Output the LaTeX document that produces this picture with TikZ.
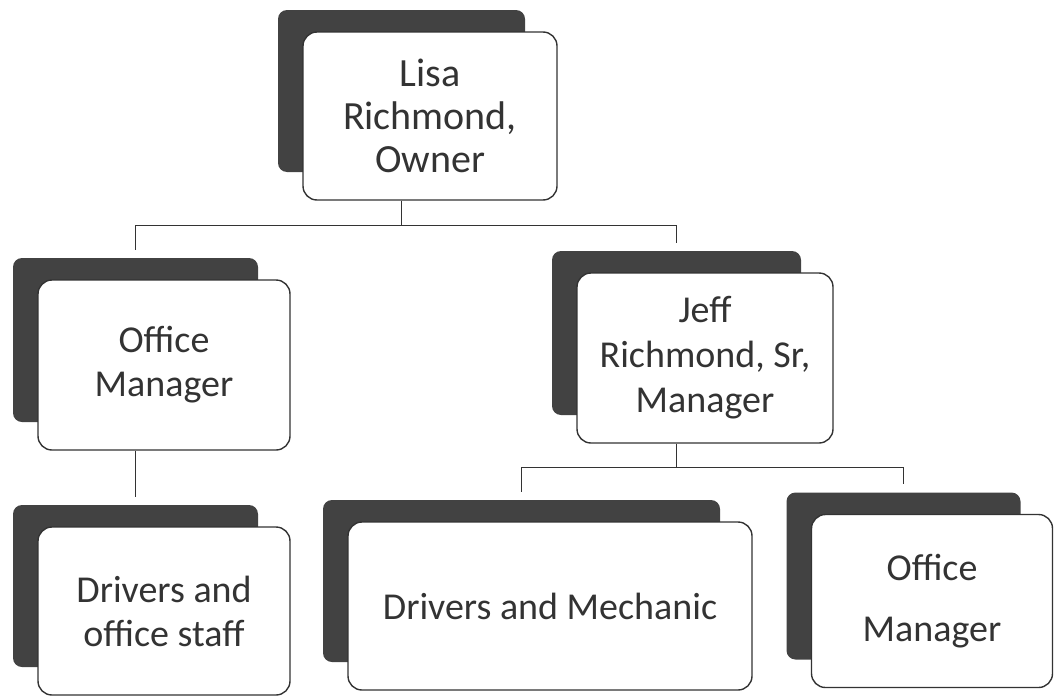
\documentclass[tikz,border=0pt]{standalone}
\usepackage{fontspec}
\setmainfont{Carlito}

\begin{document}
\begin{tikzpicture}[x=1pt, y=-1pt,
	back/.style={fill=black!74, rounded corners=9pt, inner sep=0pt},
	card/.style={draw=black!80, line width=1.4pt, fill=white, rounded corners=14pt,
		inner sep=0pt, align=center, text=black!80},
	link/.style={draw=black!80, line width=1.3pt, shorten >=8pt}]

	\useasboundingbox (0,0) rectangle (1054,696);

	%Kaesten
	\foreach \nm/\cx/\cy/\w/\h/\fs/\ls/\txt in {
		lisa/430/116/254/168/40/43/{Lisa\\Richmond,\\Owner},
		offL/164/365/252/170/38/44/{Office\\Manager},
		jeff/705/358/256/170/38/45/{Jeff\\Richmond, Sr,\\Manager},
		staff/164/611/252/168/38/44/{Drivers and\\office staff},
		mech/550/606/404/168/38/44/{Drivers and Mechanic},
		offR/932/601/241/173/38/61/{Office\\Manager}}
	{
		\node [back, minimum width={(\w-7)*1pt}, minimum height={(\h-6)*1pt}] (\nm-bk) at (\cx-28.5, \cy-25) {};
		\node [card, minimum width={\w*1pt}, minimum height={\h*1pt}, font=\fontsize{\fs}{\ls}\selectfont] (\nm) at (\cx, \cy) {\txt};
	}

	%Linien
	\draw [link] (lisa-bk |- lisa.south) -- ++(0, 25) -| (offL-bk.north);
	\draw [link] (lisa-bk |- lisa.south) -- ++(0, 25) -| (jeff-bk.north);
	\draw [link] (offL-bk |- offL.south) -- (staff-bk.north);
	\draw [link] (jeff-bk |- jeff.south) -- ++(0, 24) -| (mech-bk.north);
	\draw [link] (jeff-bk |- jeff.south) -- ++(0, 24) -| (offR-bk.north);

\end{tikzpicture}
\end{document}
